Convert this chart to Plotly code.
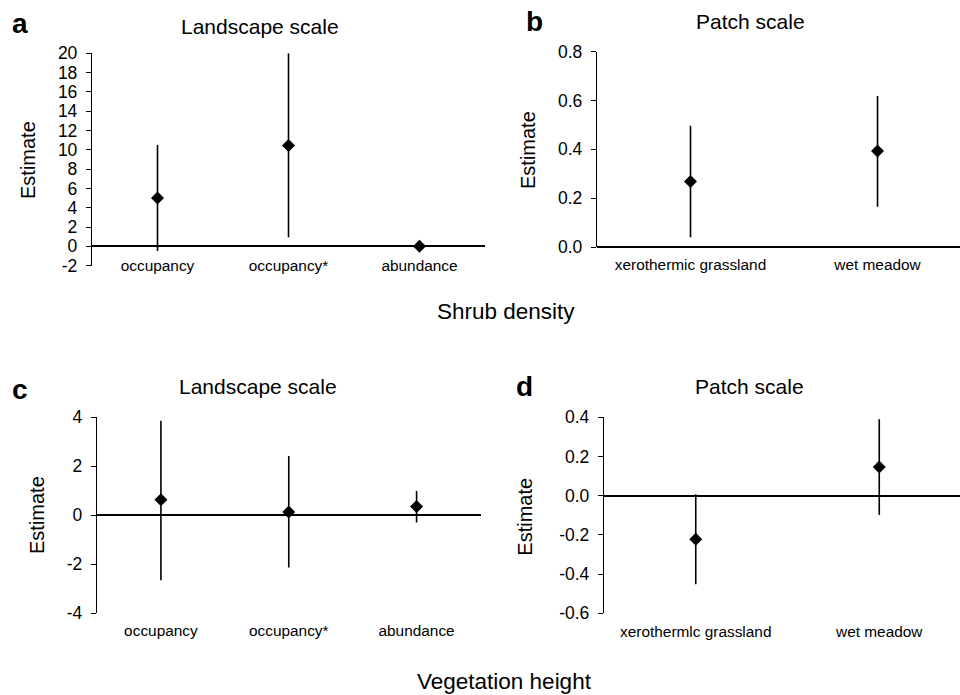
import plotly.graph_objects as go

# ---------------- data ----------------
cats_land = ["occupancy", "occupancy*", "abundance"]
cats_patch_b = ["xerothermic grassland", "wet meadow"]
cats_patch_d = ["xerothermlc grassland", "wet meadow"]

# panel a: shrub density, landscape scale
a_est = [5.0, 10.45, 0.0]
a_hi = [10.5, 20.0, 0.0]
a_lo = [-0.5, 0.93, 0.0]

# panel b: shrub density, patch scale
b_est = [0.268, 0.393]
b_hi = [0.497, 0.619]
b_lo = [0.040, 0.165]

# panel c: vegetation height, landscape scale
c_est = [0.63, 0.13, 0.35]
c_hi = [3.86, 2.42, 0.99]
c_lo = [-2.66, -2.14, -0.30]

# panel d: vegetation height, patch scale
d_est = [-0.222, 0.146]
d_hi = [0.007, 0.390]
d_lo = [-0.452, -0.098]

a_ticks = list(range(-2, 21, 2))
a_ticktext = [str(v) for v in a_ticks]
b_ticks = [0.0, 0.2, 0.4, 0.6, 0.8]
b_ticktext = ["0.0", "0.2", "0.4", "0.6", "0.8"]
c_ticks = [-4, -2, 0, 2, 4]
c_ticktext = ["-4", "-2", "0", "2", "4"]
d_ticks = [-0.6, -0.4, -0.2, 0.0, 0.2, 0.4]
d_ticktext = ["-0.6", "-0.4", "-0.2", "0.0", "0.2", "0.4"]

FONT = "Liberation Sans, Arial, sans-serif"
W, H = 960, 695

fig = go.Figure()


def add_panel(cats, est, hi, lo, xa, ya):
    fig.add_trace(go.Scatter(
        x=cats, y=est, mode="markers",
        marker=dict(symbol="diamond", size=10, color="black"),
        error_y=dict(type="data", symmetric=False,
                     array=[h - e for h, e in zip(hi, est)],
                     arrayminus=[e - l for e, l in zip(est, lo)],
                     thickness=1.6, width=0, color="black"),
        xaxis=xa, yaxis=ya, showlegend=False, cliponaxis=False))


add_panel(cats_land, a_est, a_hi, a_lo, "x", "y")
add_panel(cats_patch_b, b_est, b_hi, b_lo, "x2", "y2")
add_panel(cats_land, c_est, c_hi, c_lo, "x3", "y3")
add_panel(cats_patch_d, d_est, d_hi, d_lo, "x4", "y4")


def px_x(p):
    return p / W


def px_y(p):
    return 1 - p / H


xcommon = dict(type="category", showline=False, showgrid=False, zeroline=False,
               ticks="", tickfont=dict(family=FONT, size=15.4, color="black"),
               fixedrange=True, automargin=False)
ycommon = dict(showline=True, linecolor="black", linewidth=1.3, showgrid=False,
               zeroline=True, zerolinecolor="black", zerolinewidth=1.5,
               ticks="outside", ticklen=5, tickcolor="black", tickwidth=1.2,
               tickfont=dict(family=FONT, size=17.5, color="black"),
               ticklabelstandoff=5, automargin=False, fixedrange=True)

fig.update_layout(
    template="none",
    width=W, height=H, margin=dict(l=0, r=0, t=0, b=0, pad=0),
    paper_bgcolor="white", plot_bgcolor="white",
    xaxis=dict(xcommon, domain=[px_x(92), px_x(485)], range=[-0.5, 2.5],
               anchor="free", position=px_y(255)),
    yaxis=dict(ycommon, domain=[px_y(265.6), px_y(53.3)], range=[-2, 20],
               tickvals=a_ticks, ticktext=a_ticktext, anchor="x"),
    xaxis2=dict(xcommon, domain=[px_x(597), 1.0], range=[-0.5, 1.441],
                anchor="y2", ticklabelstandoff=7),
    yaxis2=dict(ycommon, domain=[px_y(247), px_y(51.7)], range=[0, 0.8],
                tickvals=b_ticks, ticktext=b_ticktext, anchor="x2"),
    xaxis3=dict(xcommon, domain=[px_x(97), px_x(480.5)], range=[-0.5, 2.5],
                anchor="y3", ticklabelstandoff=7),
    yaxis3=dict(ycommon, domain=[px_y(613), px_y(417.3)], range=[-4, 4],
                tickvals=c_ticks, ticktext=c_ticktext, anchor="x3"),
    xaxis4=dict(xcommon, domain=[px_x(604), 1.0], range=[-0.5, 1.44],
                anchor="y4", ticklabelstandoff=7),
    yaxis4=dict(ycommon, domain=[px_y(613.3), px_y(417.3)], range=[-0.6, 0.4],
                tickvals=d_ticks, ticktext=d_ticktext, anchor="x4"),
)


def ann(text, x, y, size, bold=False, angle=0):
    fig.add_annotation(
        text=f"<b>{text}</b>" if bold else text,
        x=px_x(x), y=px_y(y), xref="paper", yref="paper",
        xanchor="center", yanchor="middle", showarrow=False, textangle=angle,
        font=dict(family=FONT, size=size, color="black"))


# panel letters
ann("a", 20, 24, 28, bold=True)
ann("b", 534.6, 21.5, 28, bold=True)
ann("c", 19.5, 389, 28, bold=True)
ann("d", 524, 386, 28, bold=True)

# panel titles
ann("Landscape scale", 260, 26.7, 21)
ann("Patch scale", 750, 21.7, 21)
ann("Landscape scale", 258, 386.7, 21)
ann("Patch scale", 749, 386.7, 21)

# y-axis titles
ann("Estimate", 28, 160, 20, angle=-90)
ann("Estimate", 528, 150, 20, angle=-90)
ann("Estimate", 37, 515, 20, angle=-90)
ann("Estimate", 525, 516.7, 20, angle=-90)

# group labels
ann("Shrub density", 505.5, 312, 22.5)
ann("Vegetation height", 504.5, 681.5, 22.5)

fig.write_html("out.html")
